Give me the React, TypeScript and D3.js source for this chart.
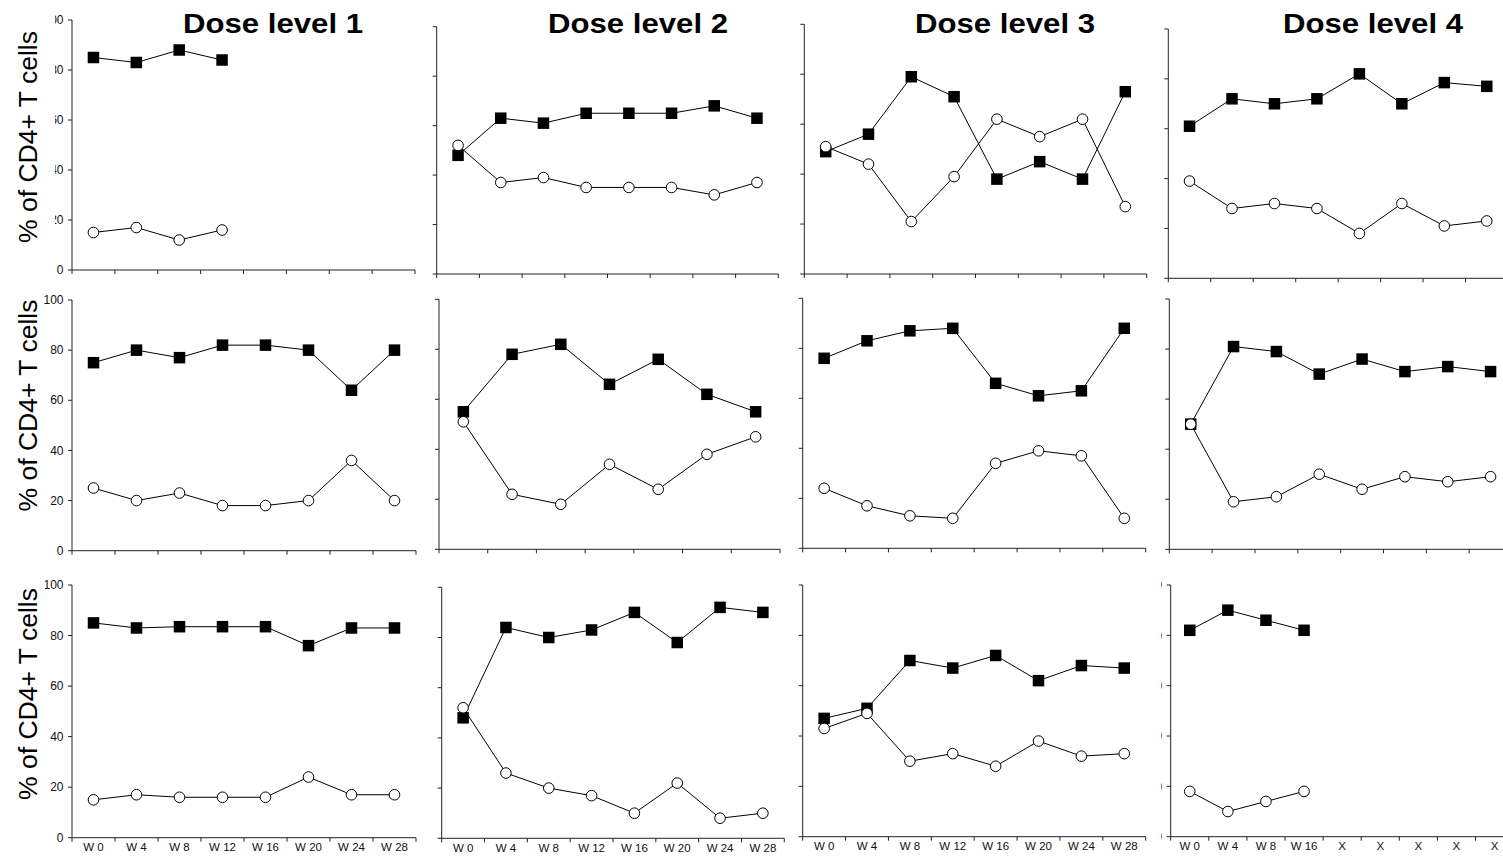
import React from "react";
import * as d3 from "d3";

// Week labels on the shared x axis
const weeks = ["W 0", "W 4", "W 8", "W 12", "W 16", "W 20", "W 24", "W 28"];
const weeksDose4 = ["W 0", "W 4", "W 8", "W 16", "X", "X", "X", "X", "X"];
const doseTitles = ["Dose level 1", "Dose level 2", "Dose level 3", "Dose level 4"];
const yTicks = [0, 20, 40, 60, 80, 100];

// Patient 1 (top row)
const p1d1Filled = [85, 83, 88, 84];
const p1d1Open = [15, 17, 12, 16];
const p1d2Filled = [48, 63, 61, 65, 65, 65, 68, 63];
const p1d2Open = [52, 37, 39, 35, 35, 35, 32, 37];
const p1d3Filled = [49, 56, 79, 71, 38, 45, 38, 73];
const p1d3Open = [51, 44, 21, 39, 62, 55, 62, 27];
const p1d4Filled = [61, 72, 70, 72, 82, 70, 78.5, 77];
const p1d4Open = [39, 28, 30, 28, 18, 30, 21, 23];

// Patient 2 (middle row)
const p2d1Filled = [75, 80, 77, 82, 82, 80, 64, 80];
const p2d1Open = [25, 20, 23, 18, 18, 20, 36, 20];
const p2d2Filled = [55, 78, 82, 66, 76, 62, 55];
const p2d2Open = [51, 22, 18, 34, 24, 38, 45];
const p2d3Filled = [76, 83, 87, 88, 66, 61, 63, 88];
const p2d3Open = [24, 17, 13, 12, 34, 39, 37, 12];
const p2d4Filled = [50, 81, 79, 70, 76, 71, 73, 71];
const p2d4Open = [50, 19, 21, 30, 24, 29, 27, 29];

// Patient 3 (bottom row)
const p3d1Filled = [85, 83, 83.5, 83.5, 83.5, 76, 83, 83];
const p3d1Open = [15, 17, 16, 16, 16, 24, 17, 17];
const p3d2Filled = [48, 84, 80, 83, 90, 78, 92, 90];
const p3d2Open = [52, 26, 20, 17, 10, 22, 8, 10];
const p3d3Filled = [47, 51, 70, 67, 72, 62, 68, 67];
const p3d3Open = [43, 49, 30, 33, 28, 38, 32, 33];
const p3d4Filled = [82, 90, 86, 82];
const p3d4Open = [18, 10, 14, 18];

type Series = { filled: number[]; open: number[]; cats: string[] };

const seriesGrid: Series[][] = [
  [
    { filled: p1d1Filled, open: p1d1Open, cats: weeks },
    { filled: p1d2Filled, open: p1d2Open, cats: weeks },
    { filled: p1d3Filled, open: p1d3Open, cats: weeks },
    { filled: p1d4Filled, open: p1d4Open, cats: weeks },
  ],
  [
    { filled: p2d1Filled, open: p2d1Open, cats: weeks },
    { filled: p2d2Filled, open: p2d2Open, cats: weeks.slice(0, 7) },
    { filled: p2d3Filled, open: p2d3Open, cats: weeks },
    { filled: p2d4Filled, open: p2d4Open, cats: weeks },
  ],
  [
    { filled: p3d1Filled, open: p3d1Open, cats: weeks },
    { filled: p3d2Filled, open: p3d2Open, cats: weeks },
    { filled: p3d3Filled, open: p3d3Open, cats: weeks },
    { filled: p3d4Filled, open: p3d4Open, cats: weeksDose4 },
  ],
];

// Plot frames (left, right, top of y axis, bottom of y axis) for each panel
const frames = [
  [
    [72, 415, 20, 270],
    [436.7, 778.3, 26.7, 274],
    [804.3, 1146.7, 24.3, 274],
    [1168.3, 1508, 29, 278.3],
  ],
  [
    [72, 416, 300, 550.7],
    [439, 780, 299.3, 549.3],
    [802.7, 1145.7, 298.3, 548.3],
    [1169.3, 1512, 299, 549.3],
  ],
  [
    [72, 416, 585, 837.7],
    [441.7, 784.3, 587.3, 838.3],
    [802.7, 1145.7, 585, 836.7],
    [1170.7, 1513.6, 585, 836.7],
  ],
];

const titleCenters = [273, 638, 1005, 1373];
const font = "'Liberation Sans', Arial, Helvetica, sans-serif";
const ink = "#000";
const axisInk = "#222";

function Panel({ row, col }: { row: number; col: number }) {
  const s = seriesGrid[row][col];
  const [x0, x1, yTop, yBottom] = frames[row][col];
  const x = d3
    .scaleBand<number>()
    .domain(d3.range(s.cats.length))
    .range([x0, x1])
    .padding(0);
  const y = d3.scaleLinear().domain([0, 100]).range([yBottom, yTop]);
  const cx = (i: number) => (x(i) as number) + x.bandwidth() / 2;
  const line = d3
    .line<number>()
    .x((_, i) => cx(i))
    .y((d) => y(d));
  const boundaries = d3.range(s.cats.length + 1).map((i) => x0 + i * x.bandwidth());
  const sq = 11.5;
  const r = 5.3;
  const clipId = `lbl-${row}-${col}`;
  // tick labels: full on the first column (trimmed by the neighbouring frame where they collide)
  const showLabels = col === 0 || (row === 2 && col === 3);
  const clipLeft = col === 0 ? (row === 0 ? 55 : row === 2 ? 45 : 0) : x0 - 9.5;

  return (
    <g>
      <clipPath id={clipId}>
        <rect x={clipLeft} y={yTop - 12} width={x0 - clipLeft} height={yBottom - yTop + 24} />
      </clipPath>
      {/* y axis */}
      <line x1={x0} x2={x0} y1={yTop} y2={yBottom} stroke={axisInk} strokeWidth={1} />
      {yTicks.map((t) => (
        <line key={t} x1={x0 - 4} x2={x0} y1={y(t)} y2={y(t)} stroke={axisInk} strokeWidth={1} />
      ))}
      {showLabels && (
        <g clipPath={`url(#${clipId})`}>
          {yTicks.map((t) => (
            <text
              key={t}
              x={x0 - 8.5}
              y={y(t)}
              dy="0.35em"
              textAnchor="end"
              fontFamily={font}
              fontSize={12}
              fill="#111"
            >
              {t}
            </text>
          ))}
        </g>
      )}
      {/* x axis */}
      <line x1={x0} x2={x1} y1={yBottom} y2={yBottom} stroke={axisInk} strokeWidth={1} />
      {boundaries.map((b, i) => (
        <line key={i} x1={b} x2={b} y1={yBottom} y2={yBottom + 4} stroke={axisInk} strokeWidth={1} />
      ))}
      {row === 2 &&
        s.cats.map((c, i) => (
          <text
            key={i}
            x={cx(i)}
            y={yBottom + 13.5}
            textAnchor="middle"
            fontFamily={font}
            fontSize={11.5}
            fill="#111"
          >
            {c}
          </text>
        ))}
      {/* filled squares */}
      <path d={line(s.filled) || ""} fill="none" stroke={ink} strokeWidth={1} />
      {s.filled.map((v, i) => (
        <rect key={i} x={cx(i) - sq / 2} y={y(v) - sq / 2} width={sq} height={sq} fill={ink} />
      ))}
      {/* open circles */}
      <path d={line(s.open) || ""} fill="none" stroke={ink} strokeWidth={1} />
      {s.open.map((v, i) => (
        <circle key={i} cx={cx(i)} cy={y(v)} r={r} fill="#fff" stroke={ink} strokeWidth={1} />
      ))}
    </g>
  );
}

export default function App() {
  const rowLabelCenters = [137, 405.5, 694];
  return (
    <svg
      width={1503}
      height={863}
      style={{ position: "absolute", left: 0, top: 0, background: "#fff" }}
    >
      <rect width={1503} height={863} fill="#fff" />
      {doseTitles.map((t, i) => (
        <text
          key={t}
          x={titleCenters[i]}
          y={33}
          textAnchor="middle"
          fontFamily={font}
          fontWeight="bold"
          fontSize={28}
          textLength={180}
          lengthAdjust="spacingAndGlyphs"
          fill="#000"
        >
          {t}
        </text>
      ))}
      {rowLabelCenters.map((cy, i) => (
        <text
          key={i}
          transform={`translate(36.5,${cy}) rotate(-90)`}
          textAnchor="middle"
          fontFamily={font}
          fontSize={25}
          textLength={212}
          lengthAdjust="spacingAndGlyphs"
          fill="#000"
        >
          % of CD4+ T cells
        </text>
      ))}
      {[0, 1, 2].map((row) =>
        [0, 1, 2, 3].map((col) => <Panel key={`${row}-${col}`} row={row} col={col} />)
      )}
    </svg>
  );
}
